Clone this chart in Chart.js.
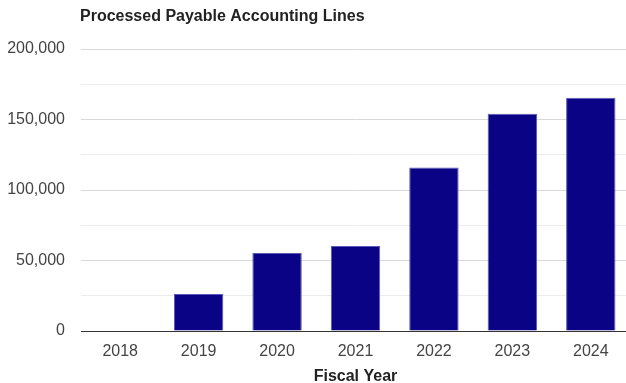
<!DOCTYPE html>
<html>
<head>
<meta charset="utf-8">
<script src="https://cdn.jsdelivr.net/npm/chart.js@4/dist/chart.umd.min.js"></script>
<style>
  html, body { margin: 0; padding: 0; background: #fff; overflow: hidden; }
  #wrap { width: 630px; height: 383px; position: relative; }
</style>
</head>
<body>
<div id="wrap"><canvas id="barChart"></canvas></div>
<script>
// ─── DATA ────────────────────────────────────────────────────────────────
const years = ["2018", "2019", "2020", "2021", "2022", "2023", "2024"];
const lines = [300, 26200, 55300, 60300, 116000, 154000, 165500];
const yTicks = [0, 50000, 100000, 150000, 200000];

const TITLE = "Processed Payable Accounting Lines";
const FONT = "'Liberation Sans', Arial, sans-serif";

// title drawn at the plot's left edge, like the source
const titlePlugin = {
  id: "leftTitle",
  afterDraw(chart) {
    const c = chart.ctx;
    c.save();
    c.font = "bold 16px " + FONT;
    c.fillStyle = "#222";
    c.textBaseline = "middle";
    c.fillText(TITLE, chart.chartArea.left - 1, 17);
    c.restore();
  }
};

new Chart(document.getElementById("barChart"), {
  type: "bar",
  data: {
    labels: years,
    datasets: [{
      data: lines,
      backgroundColor: "#0a0386",
      borderColor: "#5a5ab8",
      borderWidth: 1,
      barPercentage: 0.63,
      categoryPercentage: 1
    }]
  },
  options: {
    responsive: true,
    maintainAspectRatio: false,
    animation: false,
    layout: { padding: { top: 49, right: 0, left: 0, bottom: 0 } },
    plugins: { legend: { display: false }, tooltip: { enabled: false } },
    scales: {
      x: {
        grid: { display: false },
        border: { color: "#333", width: 1 },
        ticks: { color: "#444", font: { family: FONT, size: 16 }, padding: 3 },
        title: {
          display: true, text: "Fiscal Year", color: "#222",
          font: { family: FONT, size: 16, weight: "bold" }, padding: { top: 4, bottom: -3 }
        },
        afterFit: s => { s.height = 52; }
      },
      y: {
        min: 0, max: 200000,
        border: { display: false },
        grid: {
          drawTicks: false,
          color: ctx => ctx.tick.value === 0 ? "#333" :
            (yTicks.includes(ctx.tick.value) ? "#d8d8d8" : "#ececec")
        },
        ticks: {
          stepSize: 25000,
          padding: 16,
          color: "#444",
          font: { family: FONT, size: 16 },
          callback: v => yTicks.includes(v) ? v.toLocaleString("en-US") : ""
        },
        afterFit: s => { s.width = 81; }
      }
    }
  },
  plugins: [titlePlugin]
});
</script>
</body>
</html>
